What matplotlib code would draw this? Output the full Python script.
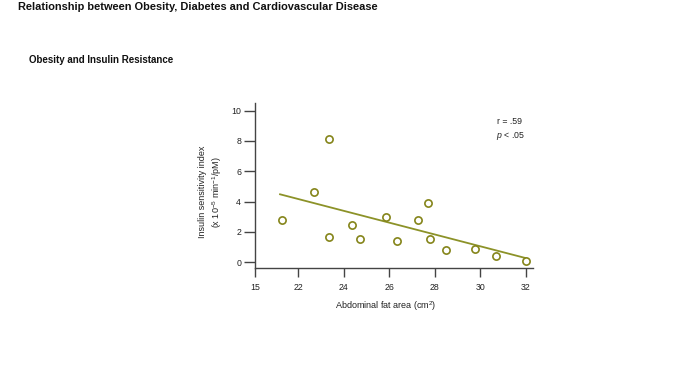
import matplotlib
matplotlib.use("Agg")
import matplotlib.pyplot as plt

plt.rcParams['font.family'] = ['Liberation Sans', 'DejaVu Sans']
plt.rcParams['mathtext.fontset'] = 'custom'
plt.rcParams['mathtext.rm'] = 'Liberation Sans'
plt.rcParams['mathtext.it'] = 'Liberation Sans:italic'
plt.rcParams['mathtext.bf'] = 'Liberation Sans:bold'

# Data
fat_area = [21.27, 22.70, 23.35, 23.35, 24.37, 24.69, 25.85, 26.32, 27.24, 27.68, 27.77, 28.47, 29.76, 30.68, 31.99]
insulin_sens = [2.79, 4.66, 8.10, 1.65, 2.46, 1.52, 3.01, 1.38, 2.79, 3.91, 1.52, 0.81, 0.86, 0.42, 0.11]
fit_x = [21.2, 32.0]
fit_y = [4.48, 0.27]
xtick_pos = [20.1, 22, 24, 26, 28, 30, 32]
xtick_labels = ["15", "22", "24", "26", "28", "30", "32"]
ytick_pos = [0, 2, 4, 6, 8, 10]

olive = "#85851a"
line_col = "#8c9228"
axis_col = "#444444"

fig = plt.figure(figsize=(7.0, 3.74), dpi=100)
fig.text(18/700, 1 - 7/374, "Relationship between Obesity, Diabetes and Cardiovascular Disease",
         fontsize=7.9, fontweight='bold', ha='left', va='center', color='#111111')
fig.text(29/700, 1 - 60/374, "Obesity and Insulin Resistance",
         fontsize=7.0, fontweight='bold', ha='left', va='center', color='#111111')

ax = fig.add_axes([255/700, 1 - 268.3/374, 278/700, 165.3/374])
ax.plot(fit_x, fit_y, color=line_col, lw=1.3, zorder=2)
ax.plot(fat_area, insulin_sens, 'o', ms=5.2, mfc='white', mec=olive, mew=1.2, zorder=3)

ax.set_xlim(20.1, 32.31)
ax.set_ylim(-0.4, 10.5)
ax.set_xticks(xtick_pos)
ax.set_xticklabels(xtick_labels)
ax.set_yticks(ytick_pos)
ax.set_yticklabels([str(v) for v in ytick_pos])

for s in ['top', 'right']:
    ax.spines[s].set_visible(False)
for s in ['left', 'bottom']:
    ax.spines[s].set_color(axis_col)
    ax.spines[s].set_linewidth(1.0)
ax.tick_params(axis='y', length=8, width=1.0, color=axis_col, labelsize=6.3, pad=2, labelcolor='#222222')
ax.tick_params(axis='x', length=6.5, width=1.0, color=axis_col, labelsize=6.3, pad=4, labelcolor='#222222')

fig.text(386/700, 1 - 306/374, "Abdominal fat area (cm$^2$)", fontsize=6.5, ha='center', va='center', color='#222222')
fig.text(211/700, 1 - 192/374, "Insulin sensitivity index\n(x 10$^{-5}$ min$^{-1}$/pM)", fontsize=6.5,
         ha='center', va='center', rotation=90, color='#222222', linespacing=1.25)

fig.text(497/700, 1 - 122/374, "r = .59", fontsize=6.3, ha='left', va='center', color='#222222')
fig.text(496/700, 1 - 136.5/374, "$\\it{p}$ < .05", fontsize=6.3, ha='left', va='center', color='#222222')

fig.savefig("out.png", dpi=100, facecolor='white')
